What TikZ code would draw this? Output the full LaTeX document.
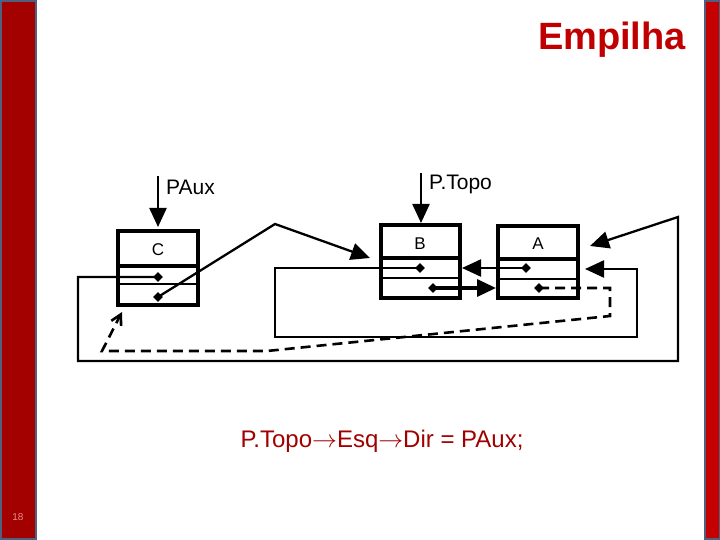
\documentclass[tikz,border=0pt]{standalone}
\usepackage{fontspec}
\setmainfont{Liberation Sans}
\usetikzlibrary{arrows.meta,shapes.geometric}
\definecolor{leftred}{RGB}{163,0,0}
\definecolor{rightred}{RGB}{196,0,0}
\definecolor{barblue}{RGB}{80,96,128}
\definecolor{titlered}{RGB}{192,0,0}
\definecolor{codered}{RGB}{160,0,0}
\definecolor{pagepink}{RGB}{232,140,140}
\newcommand{\myarrow}{\ensuremath{\rightarrow}}
\tikzset{
  listbox/.style={draw=black, line width=3.5pt, minimum width=80pt, minimum height=73pt, inner sep=0pt},
  thickdiv/.style={line width=3.5pt},
  thindiv/.style={line width=2.3pt},
  ptrdot/.style={diamond, fill=black, inner sep=0pt, minimum size=10pt},
  lbl/.style={inner sep=0pt, font=\fontsize{17}{19}\selectfont},
  ptrlbl/.style={inner sep=0pt, font=\fontsize{21}{23}\selectfont},
  link/.style={line width=2.3pt, line join=miter},
  head/.style={-{Triangle[length=19pt,width=17pt]}},
  dashlink/.style={line width=2.6pt, dash pattern=on 10pt off 6pt, -{Straight Barb[length=10pt,width=11pt]}}
}
\begin{document}
\begin{tikzpicture}[x=1pt,y=-1pt]
\useasboundingbox (0,0) rectangle (720,540);
\fill[white] (0,0) rectangle (720,540);
% side bars
\filldraw[fill=leftred, draw=barblue, line width=2pt] (1,1) rectangle (36,539);
\filldraw[fill=rightred, draw=barblue, line width=1.5pt] (705,1) rectangle (719.5,539);
\node[text=pagepink, inner sep=0pt, font=\fontsize{10}{12}\selectfont] (pg) at (18,517) {18};
% title
\node[anchor=base east, inner sep=0pt, text=titlered, font=\bfseries\fontsize{38}{40}\selectfont] (title) at (686,50) {Empilha};
% list boxes
\node[listbox, minimum height=74pt] (C) at (158,268) {};
\node[listbox, minimum width=79pt] (B) at (420.5,261.5) {};
\node[listbox, minimum height=72pt] (A) at (538,262) {};
\draw[thickdiv] (C.west |- 0,266) -- (C.east |- 0,266);
\draw[thindiv] (C.west |- 0,284) -- (C.east |- 0,284);
\draw[thickdiv] (B.west |- 0,258) -- (B.east |- 0,258);
\draw[thindiv] (B.west |- 0,278) -- (B.east |- 0,278);
\draw[thickdiv] (A.west |- 0,259) -- (A.east |- 0,259);
\draw[thindiv] (A.west |- 0,279) -- (A.east |- 0,279);
\node[lbl, anchor=base] (Clab) at (158,255) {C};
\node[lbl, anchor=base] (Blab) at (420,249) {B};
\node[lbl, anchor=base] (Alab) at (538,249) {A};
% pointer dots
\node[ptrdot] (Cm) at (158,277) {};
\node[ptrdot] (Cb) at (158,297) {};
\node[ptrdot] (Bm) at (420,268) {};
\node[ptrdot] (Bb) at (433,288) {};
\node[ptrdot] (Am) at (526,268) {};
\node[ptrdot] (Ab) at (539,288) {};
% external pointers
\coordinate (pauxS) at (158,176);
\coordinate (pauxT) at (158,227);
\coordinate (ptopoS) at (421,173);
\coordinate (ptopoT) at (421,223);
\draw[link, head] (pauxS) -- (pauxT);
\draw[link, head] (ptopoS) -- (ptopoT);
\node[ptrlbl, anchor=base west] (paux) at (166,195) {PAux};
\node[ptrlbl, anchor=base west] (ptopo) at (429,190) {P.Topo};
% tips
\coordinate (tipA1) at (590,246);
\coordinate (tipB1) at (370,258);
\coordinate (tipA2) at (585,269);
\coordinate (tipA3) at (496,288);
\coordinate (tipB2) at (462,268);
\coordinate (tipC) at (122,312);
% C middle pointer: big outer loop to A
\draw[link, head] (Cm.center) -- (78,277) -- (78,361) -- (678,361) -- (678,217) -- (tipA1);
% C bottom pointer to B
\draw[link, head] (Cb.center) -- (275,224) -- (tipB1);
% B middle pointer loop to A
\draw[link, head] (Bm.center) -- (275,268) -- (275,337) -- (637,337) -- (637,269) -- (tipA2);
% B bottom to A
\draw[line width=3.3pt, head] (Bb.center) -- (tipA3);
% A middle to B
\draw[link, head] (Am.center) -- (tipB2);
% A bottom dashed to C
\draw[dashlink] (Ab.center) -- (610,288) -- (610,316) -- (267,351) -- (102,351) -- (tipC);
% code line
\node[anchor=base, inner sep=0pt, text=codered, font=\fontsize{24}{28}\selectfont] (code) at (382,447) {P.Topo\myarrow Esq\myarrow Dir = PAux;};
\end{tikzpicture}
\end{document}
